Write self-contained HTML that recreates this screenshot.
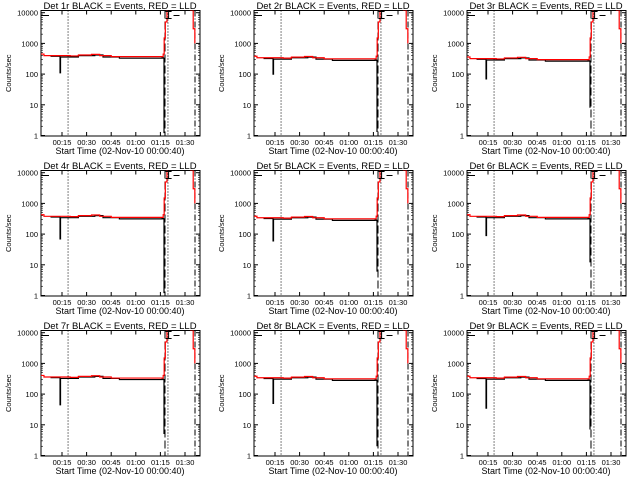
<!DOCTYPE html>
<html><head><meta charset="utf-8">
<style>
html,body{margin:0;padding:0;background:#fff;}
svg{display:block;font-family:"Liberation Sans",sans-serif;}
text{fill:#000;}
</style></head>
<body>
<svg id="chart" width="640" height="480" viewBox="0 0 640 480" xmlns="http://www.w3.org/2000/svg"></svg>
<script>
// ---- data ----
const detectors = ["1r","2r","3r","4r","5r","6r","7r","8r","9r"];
const levelScale = [1.0, 0.85, 0.8, 0.95, 0.85, 0.95, 0.9, 0.85, 0.85];
const blackDip = [110, 100, 70, 70, 60, 90, 45, 50, 35];
const blackDrop = [1.2, 1.3, 8, 1.2, 6, 12, 5, 2, 7];
const redTimesA = [2, 4, 20, 25, 33, 38, 45, 76, 76.7, 77.3, 78, 79];
const redValsA = [450, 400, 390, 420, 440, 400, 370, 370, 450, 1500, 5000, 12000];
const redTimesB = [93, 95, 96];
const redValsB = [12000, 3000, 1000];
const blackTimes = [8, 13.8, 14.1, 25, 35, 40, 50, 76, 76.8, 77.2];
const blackVals = [380, 380, 360, 400, 420, 360, 330, 340, 330, 60];
const tickLabels = ["00:15","00:30","00:45","01:00","01:15","01:30"];
const tickMinutes = [15, 30, 45, 60, 75, 90];
const yTicks = [1, 10, 100, 1000, 10000];
const yTickLabels = ["1","10","100","1000","10000"];
const dottedLines = [18.7, 79.6];
const dashedLine = 77.8;
const dashDotLine = 96.1;

const svg = document.getElementById('chart');
const NS = 'http://www.w3.org/2000/svg';
function mk(tag, attrs, parent){const e=document.createElementNS(NS,tag);for(const k in attrs)e.setAttribute(k,attrs[k]);parent.appendChild(e);return e;}

const X0=41, X1=200, Y0=10.5, Y1=136;
detectors.forEach((d,i)=>{
  const ox=(i%3)*213, oy=Math.floor(i/3)*160;
  const g=mk('g',{transform:`translate(${ox},${oy})`},svg);
  
  
  const xs=t=>62+(t-15)*1.64;
  const ys=v=>135.5-Math.log10(Math.max(v,1))*30.7;
  const clipId='clip'+i;
  const cp=mk('clipPath',{id:clipId},g); mk('rect',{x:X0,y:Y0,width:X1-X0,height:Y1-Y0},cp);
  const box=mk('rect',{x:X0,y:Y0,width:X1-X0,height:Y1-Y0,fill:'none',stroke:'#000','stroke-width':1},g);
  
  
  yTicks.forEach((v,k)=>{
    const y=ys(v);
    mk('line',{x1:X0,x2:X0+4,y1:y,y2:y,stroke:'#000'},g);
    mk('line',{x1:X1-4,x2:X1,y1:y,y2:y,stroke:'#000'},g);
    if(k<4){for(let m=2;m<10;m++){const yy=ys(v*m);mk('line',{x1:X0,x2:X0+2,y1:yy,y2:yy,stroke:'#000','stroke-width':0.6},g);mk('line',{x1:X1-2,x2:X1,y1:yy,y2:yy,stroke:'#000','stroke-width':0.6},g);}}
    const t=mk('text',{x:X0-3,y:y+3,'font-size':7.5,'text-anchor':'end'},g);t.textContent=yTickLabels[k];
    
    
  });
  tickMinutes.forEach((m,k)=>{
    const x=xs(m);
    mk('line',{x1:x,x2:x,y1:Y1,y2:Y1-4,stroke:'#000'},g);
    mk('line',{x1:x,x2:x,y1:Y0,y2:Y0+4,stroke:'#000'},g);
    const t=mk('text',{x:x,y:Y1+9,'font-size':7.5,'text-anchor':'middle'},g);t.textContent=tickLabels[k];
    
    
  });
  dottedLines.forEach(m=>{const l=mk('line',{x1:xs(m),x2:xs(m),y1:Y0,y2:Y1,stroke:'#000','stroke-dasharray':'1,2'},g);
    
    });
  const dl=mk('line',{x1:xs(dashedLine),x2:xs(dashedLine),y1:Y0,y2:Y1,stroke:'#000','stroke-dasharray':'8,3'},g);
  
  
  const ddl=mk('line',{x1:xs(dashDotLine),x2:xs(dashDotLine),y1:Y0,y2:Y1,stroke:'#000','stroke-dasharray':'6,2,1,2'},g);
  
  
  const s=levelScale[i];
  const step=(ts,vs,scale)=>{let p='';ts.forEach((t,k)=>{const v=vs[k]*scale;if(k===0)p+=`M${xs(t)},${ys(v)}`;else p+=`H${xs(t)}V${ys(v)}`;});return p;};
  let bp='';
  blackTimes.forEach((t,k)=>{let v=blackVals[k]*s; if(k===2){bp+=`V${ys(blackDip[i])}`;} if(k===blackTimes.length-1) v=blackVals[k];
    if(k===0)bp+=`M${xs(t)},${ys(v)}`;else bp+=`H${xs(t)}V${ys(v)}`;});
  bp+=`V${ys(blackDrop[i])}`;
  const bl=mk('path',{d:bp,fill:'none',stroke:'#000','stroke-width':1.2,'clip-path':`url(#${clipId})`},g);
  
  
  const rA=mk('path',{fill:'none',stroke:'#ff0000','stroke-width':1.2,'clip-path':`url(#${clipId})`},g);
  rA.setAttribute('d',(()=>{let p='';redTimesA.forEach((t,k)=>{const v=redValsA[k]*(redValsA[k]<1000?s:1);p+=(k===0?`M${xs(t)},${ys(v)}`:`H${xs(t)}V${ys(v)}`);});return p;})());
  
  
  const rB=mk('path',{d:step(redTimesB,redValsB,1),fill:'none',stroke:'#ff0000','stroke-width':1.2,'clip-path':`url(#${clipId})`},g);
  
  
  mk('path',{d:`M${X0},${Y0+5}H${X0+8} M${xs(80)},${Y0+1}V${Y0+8} M${xs(80)-3},${Y0+8}H${xs(80)+3} M${xs(80)-3},${Y0+1}H${xs(80)+3} M${xs(83)},${Y0+5}H${xs(83)+6}`,stroke:'#000',fill:'none'},g);
  const tt=mk('text',{x:120,y:9,'font-size':9.5,'text-anchor':'middle'},g);tt.textContent=`Det ${d} BLACK = Events, RED = LLD`;
  
  
  const xl=mk('text',{x:120,y:154,'font-size':9,'text-anchor':'middle'},g);xl.textContent='Start Time (02-Nov-10 00:00:40)';
  
  
  const yl=mk('text',{x:0,y:0,'font-size':7.5,'text-anchor':'middle',transform:`translate(11,${(Y0+Y1)/2}) rotate(-90)`},g);yl.textContent='Counts/sec';
  
  
});
</script>
</body></html>
